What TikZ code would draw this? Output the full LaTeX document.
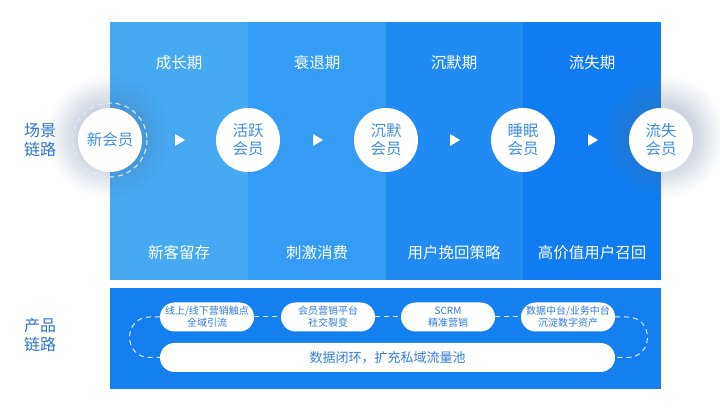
\documentclass[tikz,border=0pt]{standalone}
\usepackage{fontspec}
\setmainfont{Noto Sans CJK SC}
\usetikzlibrary{positioning,fadings}
\definecolor{stageA}{HTML}{46A9F2}
\definecolor{stageB}{HTML}{349CF5}
\definecolor{stageC}{HTML}{1F8BF3}
\definecolor{stageD}{HTML}{0F7DF1}
\definecolor{prodblue}{HTML}{1480F0}
\definecolor{memberblue}{HTML}{3F8FE3}
\definecolor{pillblue}{HTML}{2F7DDA}
\definecolor{sideblue}{HTML}{2E73CC}
\definecolor{shadowgray}{HTML}{4D6A90}
\tikzfading[name=softglow, inner color=transparent!0, outer color=transparent!100]
\begin{document}
\begin{tikzpicture}[
  x=1pt, y=-1pt,
  stage/.style={rectangle, minimum width=137.75pt, minimum height=258pt, inner sep=0pt, outer sep=0pt},
  member/.style={circle, fill=white, minimum size=64pt, inner sep=0pt, align=center, text=memberblue, font=\fontsize{15.5}{18}\selectfont},
  phase/.style={text=white, font=\fontsize{15.5}{18}\selectfont},
  pill/.style={rectangle, rounded corners=14.5pt, fill=white, minimum width=94pt, minimum height=29pt, inner sep=0pt, align=center, text=pillblue, font=\fontsize{10}{12}\selectfont},
  side/.style={align=center, text=sideblue, font=\fontsize{16}{19}\selectfont},
  loop/.style={white!85!prodblue, dashed, dash pattern=on 5pt off 4pt, line width=1pt}
]
\useasboundingbox (0,0) rectangle (720,419);

% Stage columns
\node[stage, fill=stageA, anchor=north west] (colA) at (110,22) {};
\node[stage, fill=stageB, right=0pt of colA] (colB) {};
\node[stage, fill=stageC, right=0pt of colB] (colC) {};
\node[stage, fill=stageD, right=0pt of colC] (colD) {};

\node[phase] (tA) at (179,63) {成长期};
\node[phase] (tB) at (317,63) {衰退期};
\node[phase] (tC) at (454,63) {沉默期};
\node[phase] (tD) at (592,63) {流失期};

\node[phase] (gA) at (179,253) {新客留存};
\node[phase] (gB) at (317,253) {刺激消费};
\node[phase] (gC) at (454,253) {用户挽回策略};
\node[phase] (gD) at (592,253) {高价值用户召回};

% Soft shadows
\fill[shadowgray, opacity=0.55, path fading=softglow] (108,136) circle (62);
\fill[shadowgray, opacity=0.55, path fading=softglow] (663,136) circle (62);

% Members
\draw[loop, white!85!memberblue] (110,140) circle (37);
\node[member] (mNew) at (110,140) {新会员};
\node[member] (mActive) at (248,140) {活跃\\会员};
\node[member] (mSilent) at (386,140) {沉默\\会员};
\node[member] (mSleep) at (523,140) {睡眠\\会员};
\node[member] (mLost) at (661,140) {流失\\会员};

% Arrows
\foreach \x in {179,317,454,592}
  \fill[white] (\x-4,134) -- (\x+6,140) -- (\x-4,146) -- cycle;

\node[side] (scene) at (40,140) {场景\\链路};

% Product chain
\node[rectangle, fill=prodblue, minimum width=551pt, minimum height=101pt, inner sep=0pt, anchor=north west] (prod) at (110,288) {};
\node[side] (product) at (40,335) {产品\\链路};

\node[pill] (pTouch) at (207,317) {线上/线下营销触点\\全域引流};
\node[pill] (pPlat) at (328,317) {会员营销平台\\社交裂变};
\node[pill] (pScrm) at (448,317) {SCRM\\精准营销};
\node[pill] (pData) at (568,317) {数据中台/业务中台\\沉淀数字资产};
\node[pill, minimum width=455pt, font=\fontsize{13}{15}\selectfont] (pLoop) at (387.5,357.5) {数据闭环，扩充私域流量池};

% Dashed loop
\draw[loop] (pTouch) -- (pPlat);
\draw[loop] (pPlat) -- (pScrm);
\draw[loop] (pScrm) -- (pData);
\draw[loop] (pTouch.west) -- ++(-10,0) .. controls +(-27,0) and +(-27,0) .. ([xshift=-10pt]pLoop.west) -- (pLoop.west);
\draw[loop] (pData.east) -- ++(12,0) .. controls +(27,0) and +(27,0) .. ([xshift=12pt]pLoop.east) -- (pLoop.east);
\end{tikzpicture}
\end{document}
